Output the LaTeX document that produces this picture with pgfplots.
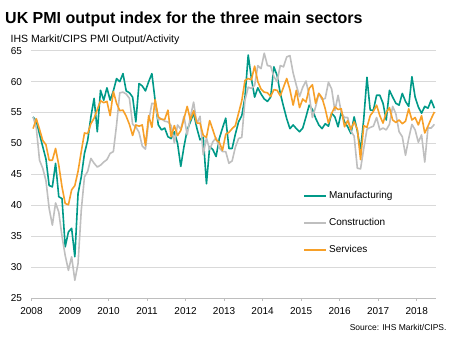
\documentclass[border=0pt]{standalone}
\usepackage{fontspec}
\setmainfont{Liberation Sans}
\usepackage{pgfplots}
\pgfplotsset{compat=1.18}
\usepackage{pgfplotstable}
\definecolor{mfgteal}{RGB}{0,153,136}
\definecolor{congrey}{RGB}{191,191,191}
\definecolor{serorange}{RGB}{247,160,40}
\definecolor{gridc}{RGB}{217,217,217}
\definecolor{axc}{RGB}{190,190,190}

\pgfplotstableread{
m mfg con ser
0 54.3 54.3 52.4
1 53.6 52.5 54.0
2 51.5 47.3 52.3
3 49.5 46.0 50.5
4 47.5 44.0 49.8
5 43.2 39.5 47.3
6 43.0 36.8 47.3
7 46.8 40.4 49.2
8 41.4 38.9 46.5
9 41.1 35.0 43.0
10 33.3 31.9 40.3
11 35.7 29.5 40.1
12 36.3 31.7 42.5
13 31.7 27.9 43.2
14 41.9 30.6 45.5
15 44.6 39.2 48.7
16 48.4 44.6 51.7
17 50.5 45.5 51.6
18 54.3 47.6 53.2
19 57.3 46.8 54.1
20 51.9 46.2 55.5
21 58.6 46.5 56.9
22 57.0 47.0 56.6
23 59.0 47.4 56.8
24 57.0 48.4 54.5
25 58.5 48.7 58.4
26 60.5 53.0 56.5
27 60.0 58.2 55.3
28 61.3 58.3 55.4
29 58.5 58.0 54.4
30 58.2 57.3 53.1
31 57.5 53.1 51.3
32 53.5 52.7 53.0
33 59.7 51.8 52.8
34 59.3 49.6 53.0
35 58.5 49.1 49.7
36 60.0 53.6 54.5
37 61.3 56.5 52.6
38 57.0 56.4 57.1
39 53.0 53.8 54.3
40 52.2 54.0 53.9
41 52.5 53.6 53.9
42 51.1 53.5 55.4
43 50.8 52.9 51.1
44 51.9 50.1 52.9
45 50.0 53.0 51.3
46 46.3 52.3 52.1
47 49.5 54.4 54.0
48 52.2 51.4 56.0
49 53.5 54.3 53.8
50 54.9 56.7 55.3
51 52.5 53.2 53.3
52 50.6 54.4 53.3
53 51.0 48.2 51.3
54 43.5 50.9 51.0
55 49.5 49.0 53.7
56 49.0 50.3 52.2
57 47.9 50.9 50.6
58 50.8 49.3 50.2
59 52.5 48.7 48.9
60 54.1 48.7 51.5
61 49.2 46.8 51.8
62 49.2 47.2 52.4
63 51.5 49.4 52.9
64 53.5 50.8 54.9
65 54.5 51.0 56.9
66 57.5 57.0 60.2
67 64.3 59.1 60.5
68 60.5 58.9 60.3
69 57.5 59.4 62.5
70 59.0 62.6 60.0
71 58.0 62.1 58.8
72 57.2 64.6 58.3
73 56.8 62.6 58.2
74 57.5 62.5 57.6
75 62.4 60.8 58.7
76 61.0 60.0 58.6
77 58.1 62.6 57.7
78 56.0 62.4 59.1
79 54.0 64.0 60.5
80 52.4 64.2 58.7
81 53.0 61.4 56.2
82 52.4 59.4 58.6
83 51.9 57.6 55.8
84 52.5 59.1 57.2
85 54.3 60.1 56.7
86 56.2 57.8 58.9
87 55.5 54.2 59.5
88 54.1 55.9 56.5
89 53.0 58.1 58.1
90 52.4 57.1 57.4
91 53.2 57.3 55.6
92 52.8 59.9 53.3
93 54.9 58.8 54.9
94 54.3 55.3 55.9
95 52.7 57.8 55.5
96 55.1 55.0 55.6
97 53.5 54.2 52.7
98 52.7 54.2 53.7
99 51.6 52.0 52.3
100 54.3 51.2 53.5
101 52.0 46.0 52.3
102 48.9 45.9 47.4
103 54.0 49.2 52.9
104 60.7 52.3 52.6
105 55.4 52.6 54.5
106 55.4 52.8 55.2
107 57.8 54.2 56.2
108 57.8 52.2 54.5
109 56.5 52.5 53.3
110 53.8 52.2 55.0
111 58.6 53.1 55.8
112 57.5 56.0 53.8
113 56.5 54.8 53.4
114 56.2 51.9 53.8
115 58.1 51.1 53.2
116 56.8 48.1 53.6
117 56.0 50.8 55.6
118 60.8 53.1 53.8
119 57.5 52.2 54.2
120 55.9 50.2 53.0
121 54.9 51.4 54.5
122 56.0 47.0 51.7
123 55.7 52.5 52.8
124 57.0 52.5 54.0
125 55.7 53.1 55.1
}\pmidata

\begin{document}
\begin{tikzpicture}
\useasboundingbox (0pt,0pt) rectangle (456pt,343pt);
\node[anchor=base west, font=\fontsize{16}{18}\selectfont\bfseries, inner sep=0] at (5pt,319pt) {UK PMI output index for the three main sectors};
\node[anchor=base west, font=\fontsize{10.5}{12}\selectfont, inner sep=0] at (10.5pt,300.3pt) {IHS Markit/CIPS PMI Output/Activity};
\begin{axis}[
  at={(31.5pt,44.8pt)}, anchor=south west,
  scale only axis, width=404.5pt, height=247.5pt,
  xmin=2008, xmax=2018.5, ymin=25, ymax=65,
  xtick={2008,...,2018}, ytick={25,30,...,65},
  axis x line*=bottom, axis y line*=left,
  y axis line style={draw=none},
  x axis line style={draw=axc, line width=0.8pt},
  ytick style={draw=none},
  xtick style={draw=axc, line width=0.8pt},
  tick align=outside, major tick length=3pt,
  ymajorgrids, grid style={gridc, line width=0.8pt},
  /pgf/number format/assume math mode=true,
  /pgf/number format/1000 sep={},
  tick label style={font=\fontsize{10}{12}\selectfont},
  yticklabel style={xshift=-3pt},
  xticklabel style={yshift=-2.6pt},
  legend style={at={(0.671,0.441)}, anchor=north west, draw=none, fill=none,
    inner sep=0pt, row sep=13.5pt,
    font=\fontsize{10}{12}\selectfont,
    nodes={text height=7.2pt, text depth=2.1pt, inner sep=2pt}},
  legend cell align=left,
  legend image code/.code={\draw[#1] (0pt,0pt) -- (22pt,0pt);},
]
\addlegendimage{draw={rgb,255:red,0;green,153;blue,136}, line width=2pt}
\addlegendentry{Manufacturing}
\addlegendimage{draw={rgb,255:red,191;green,191;blue,191}, line width=2pt}
\addlegendentry{Construction}
\addlegendimage{draw={rgb,255:red,247;green,160;blue,40}, line width=2pt}
\addlegendentry{Services}
\addplot[draw=mfgteal, line width=1.6pt, line join=round, forget plot] table[x expr=2008+(\thisrow{m}+0.5)/12, y=mfg] {\pmidata};
\addplot[draw=congrey, line width=1.6pt, line join=round, forget plot] table[x expr=2008+(\thisrow{m}+0.5)/12, y=con] {\pmidata};
\addplot[draw=serorange, line width=1.6pt, line join=round, forget plot] table[x expr=2008+(\thisrow{m}+0.5)/12, y=ser] {\pmidata};
\end{axis}
\node[anchor=base east, font=\fontsize{8.5}{10}\selectfont, inner sep=0] at (446.7pt,12.3pt) {Source: IHS Markit/CIPS.};
\end{tikzpicture}
\end{document}
